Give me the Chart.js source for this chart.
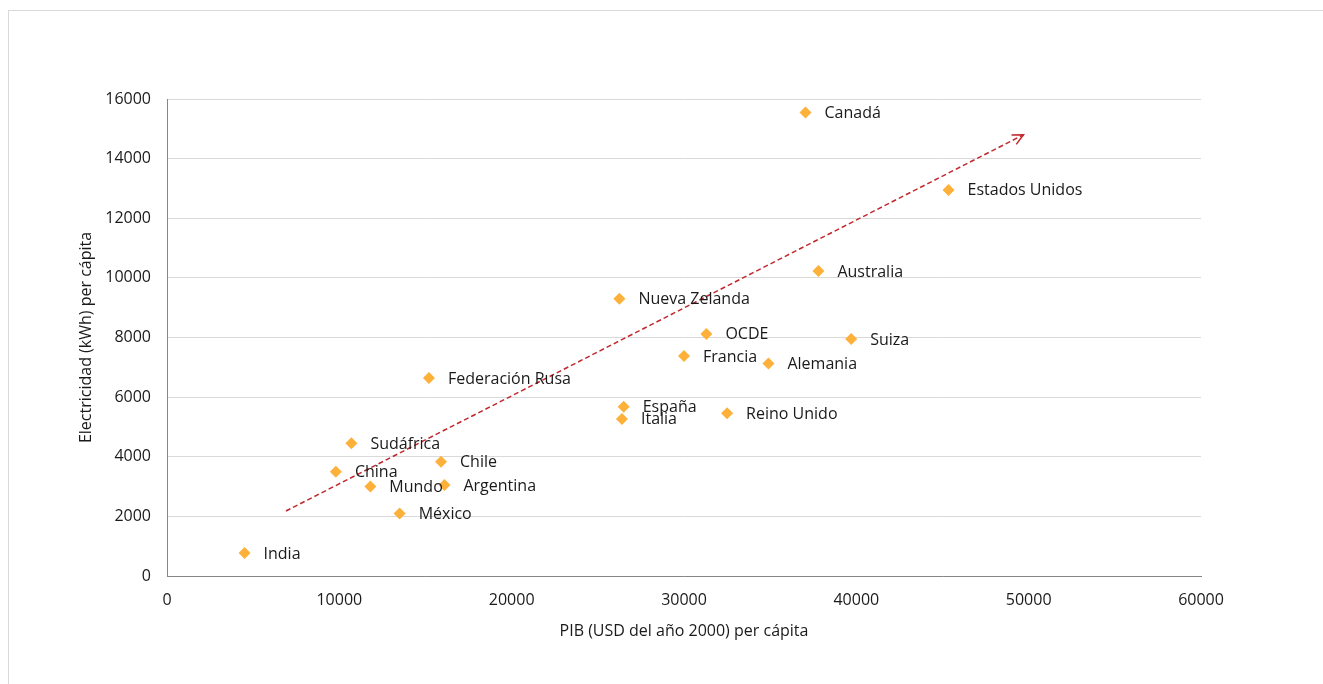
<!DOCTYPE html>
<html>
<head>
<meta charset="utf-8">
<script src="https://cdn.jsdelivr.net/npm/chart.js@4/dist/chart.umd.min.js"></script>
<style>
  html, body { margin: 0; padding: 0; background: #fff; }
  #wrap { position: relative; width: 1323px; height: 684px; }
  #frame { position: absolute; left: 8px; top: 10px; right: -5px; bottom: -5px; border-left: 1px solid #d9d9d9; border-top: 1px solid #d9d9d9; }
  canvas { position: absolute; left: 0; top: 0; }
</style>
</head>
<body>
<div id="wrap">
  <div id="frame"></div>
  <canvas id="chart" width="1323" height="684"></canvas>
</div>
<script>
// Datos
const paises = ['India', 'China', 'Sudáfrica', 'Mundo', 'México', 'Chile', 'Argentina', 'Federación Rusa',
    'Nueva Zelanda', 'OCDE', 'Francia', 'Alemania', 'Suiza', 'España', 'Italia', 'Reino Unido',
    'Australia', 'Canadá', 'Estados Unidos'];
const pib = [4500, 9800, 10700, 11800, 13500, 15900, 16100, 15200,
    26250, 31300, 30000, 34900, 39700, 26500, 26400, 32500,
    37800, 37050, 45350];
const electricidad = [770, 3500, 4450, 3000, 2100, 3830, 3050, 6640,
    9300, 8120, 7380, 7130, 7950, 5680, 5270, 5460,
    10230, 15550, 12950];

// Flecha de tendencia
const tendenciaX = [6900, 49700];
const tendenciaY = [2180, 14800];

const xTicks = [0, 10000, 20000, 30000, 40000, 50000, 60000];
const yTicks = [0, 2000, 4000, 6000, 8000, 10000, 12000, 14000, 16000];

const fuente = "'Open Sans', 'Noto Sans', sans-serif";
const colorTexto = '#1a1a1a';

// Etiquetas junto a cada punto + punta de la flecha
const etiquetas = {
    id: 'etiquetas',
    afterDatasetsDraw(chart) {
        const ctx = chart.ctx;
        const meta = chart.getDatasetMeta(1);
        ctx.save();
        ctx.font = '16px ' + fuente;
        ctx.fillStyle = colorTexto;
        ctx.textBaseline = 'middle';
        meta.data.forEach((p, i) => {
            ctx.fillText(paises[i], p.x + 19, p.y + 1);
        });

        // punta de flecha
        const t = chart.getDatasetMeta(0).data;
        const a = t[0], b = t[1];
        const ang = Math.atan2(b.y - a.y, b.x - a.x);
        ctx.strokeStyle = '#C0282D';
        ctx.lineWidth = 1.5;
        ctx.setLineDash([]);
        ctx.beginPath();
        ctx.moveTo(b.x - 12 * Math.cos(ang - 0.45), b.y - 12 * Math.sin(ang - 0.45));
        ctx.lineTo(b.x, b.y);
        ctx.lineTo(b.x - 12 * Math.cos(ang + 0.45), b.y - 12 * Math.sin(ang + 0.45));
        ctx.stroke();
        ctx.restore();
    }
};

new Chart(document.getElementById('chart'), {
    type: 'scatter',
    data: {
        datasets: [{
            label: 'Tendencia',
            data: tendenciaX.map((x, i) => ({ x: x, y: tendenciaY[i] })),
            showLine: true,
            borderColor: '#C0282D',
            borderWidth: 1.5,
            borderDash: [5, 3],
            pointRadius: 0,
            fill: false
        }, {
            label: 'Países',
            data: pib.map((x, i) => ({ x: x, y: electricidad[i] })),
            pointStyle: 'rectRot',
            pointRadius: 6,
            pointBackgroundColor: '#FDB03A',
            pointBorderColor: '#FDB03A',
            pointBorderWidth: 0
        }]
    },
    options: {
        responsive: false,
        animation: false,
        layout: { padding: { left: 0, top: 99, right: 122, bottom: 0 } },
        plugins: {
            legend: { display: false },
            tooltip: { enabled: false }
        },
        scales: {
            x: {
                type: 'linear',
                min: 0,
                max: 60000,
                afterBuildTicks: s => { s.ticks = xTicks.map(v => ({ value: v })); },
                afterFit: s => { s.height = 108; },
                grid: { display: false, drawTicks: false },
                border: { display: true, color: '#868686', width: 1 },
                ticks: {
                    padding: 15,
                    color: colorTexto,
                    font: { family: fuente, size: 16 },
                    maxRotation: 0,
                    callback: v => String(v)
                },
                title: {
                    display: true,
                    text: 'PIB (USD del año 2000) per cápita',
                    color: colorTexto,
                    font: { family: fuente, size: 16 },
                    padding: { top: 0, bottom: 43 }
                }
            },
            y: {
                type: 'linear',
                min: 0,
                max: 16000,
                afterBuildTicks: s => { s.ticks = yTicks.map(v => ({ value: v })); },
                afterFit: s => { s.width = 167; },
                grid: { color: '#d9d9d9', lineWidth: 1, drawTicks: false },
                border: { display: true, color: '#868686', width: 1 },
                ticks: {
                    padding: 16,
                    color: colorTexto,
                    font: { family: fuente, size: 16 },
                    callback: v => String(v)
                },
                title: {
                    display: true,
                    text: 'Electricidad (kWh) per cápita',
                    color: colorTexto,
                    font: { family: fuente, size: 16 },
                    padding: { top: 77, bottom: 0 }
                }
            }
        }
    },
    plugins: [etiquetas]
});
</script>
</body>
</html>
